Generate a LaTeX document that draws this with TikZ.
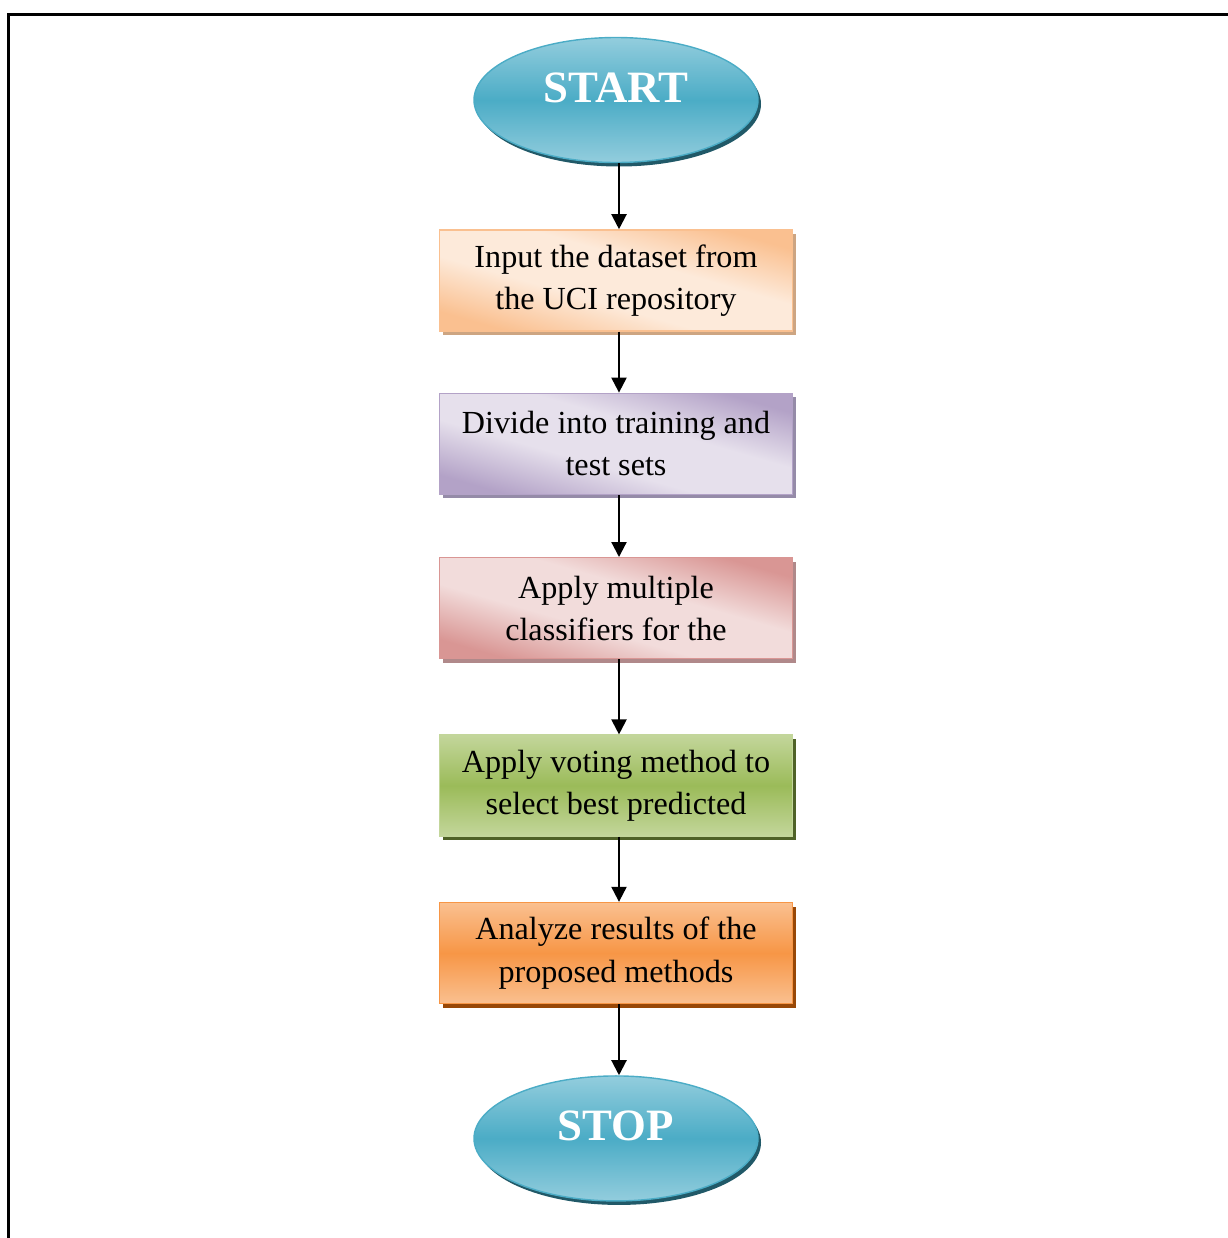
\documentclass[tikz,border=0pt]{standalone}
\usepackage{fontspec}
\setmainfont{Liberation Serif}
\usepackage{tikz}
\usetikzlibrary{
  arrows.meta,
  positioning,
  shapes.geometric,
  shadows
}
\definecolor{termlight}{HTML}{93CDDD}
\definecolor{termmid}{HTML}{4BACC6}
\definecolor{termshadow}{HTML}{215968}
\definecolor{inputdark}{HTML}{FAC090}
\definecolor{inputlight}{HTML}{FDEADA}
\definecolor{inputshadow}{HTML}{CDA582}
\definecolor{splitdark}{HTML}{B3A2C7}
\definecolor{splitlight}{HTML}{E6E0EC}
\definecolor{splitshadow}{HTML}{958BA8}
\definecolor{classdark}{HTML}{D99694}
\definecolor{classlight}{HTML}{F2DCDB}
\definecolor{classshadow}{HTML}{B0898A}
\definecolor{votelight}{HTML}{C3D69B}
\definecolor{votemid}{HTML}{9BBB59}
\definecolor{voteshadow}{HTML}{4F6228}
\definecolor{resultlight}{HTML}{FAC090}
\definecolor{resultmid}{HTML}{F79646}
\definecolor{resultshadow}{HTML}{984807}
% diagonal band shading, colours set per box
\colorlet{diagdark}{inputdark}
\colorlet{diaglight}{inputlight}
\pgfdeclareverticalshading[diagdark,diaglight]{diagband}{100bp}{
  color(0bp)=(diagdark); color(25bp)=(diagdark); color(42bp)=(diaglight);
  color(58bp)=(diaglight); color(75bp)=(diagdark); color(100bp)=(diagdark)}
\tikzset{
  diag colors/.code 2 args={\colorlet{diagdark}{#1}\colorlet{diaglight}{#2}},
  termbox/.style={ellipse, draw=termmid, line width=0.8pt,
    top color=termlight, bottom color=termlight, middle color=termmid,
    minimum width=5.68cm, minimum height=2.5cm, inner sep=0pt,
    text=white, text depth=0.5cm, font=\fontsize{25.5}{30}\selectfont\bfseries,
    drop shadow={shadow xshift=0.06cm, shadow yshift=-0.08cm, fill=termshadow, opacity=1}},
  inputbox/.style={draw=inputdark, line width=0.8pt,
    diag colors={inputdark}{inputlight}, shade, shading=diagband, shading angle=-16,
    minimum width=7.06cm, minimum height=2.02cm, inner sep=0pt,
    align=center, font=\fontsize{18.3}{24}\selectfont,
    drop shadow={shadow xshift=0.07cm, shadow yshift=-0.08cm, fill=inputshadow, opacity=1}},
  splitbox/.style={draw=splitdark, line width=0.8pt,
    diag colors={splitdark}{splitlight}, shade, shading=diagband, shading angle=-16,
    minimum width=7.06cm, minimum height=2.02cm, inner sep=0pt,
    align=center, font=\fontsize{18.3}{24}\selectfont,
    drop shadow={shadow xshift=0.07cm, shadow yshift=-0.08cm, fill=splitshadow, opacity=1}},
  classbox/.style={draw=classdark, line width=0.8pt,
    diag colors={classdark}{classlight}, shade, shading=diagband, shading angle=-16,
    minimum width=7.06cm, minimum height=2.02cm, inner sep=0pt,
    align=center, font=\fontsize{18.3}{24}\selectfont,
    drop shadow={shadow xshift=0.07cm, shadow yshift=-0.08cm, fill=classshadow, opacity=1}},
  votebox/.style={draw=votelight, line width=0.8pt,
    top color=votelight, bottom color=votelight, middle color=votemid,
    minimum width=7.06cm, minimum height=2.02cm, inner sep=0pt,
    align=center, font=\fontsize{18.3}{24}\selectfont,
    drop shadow={shadow xshift=0.07cm, shadow yshift=-0.08cm, fill=voteshadow, opacity=1}},
  resultbox/.style={draw=resultmid, line width=0.8pt,
    top color=resultlight, bottom color=resultlight, middle color=resultmid,
    minimum width=7.06cm, minimum height=2.02cm, inner sep=0pt,
    align=center, font=\fontsize{18.3}{24}\selectfont,
    drop shadow={shadow xshift=0.07cm, shadow yshift=-0.08cm, fill=resultshadow, opacity=1}},
  arr/.style={-{Triangle[length=0.3cm, width=0.3cm]}, line width=1.2pt},
}

\begin{document}
\begin{tikzpicture}
  \useasboundingbox (0,0) rectangle (24.56,-24.76);

  % frame
  \draw[line width=0.06cm] (0.18,-24.76) -- (0.18,-0.28) -- (24.56,-0.28);

  % start
  \node[termbox] (start) at (12.32,-2.0) {START};

  % steps
  \node[inputbox, below=1.32cm of start] (input) {Input the dataset from\\the UCI repository};
  \node[splitbox, below=1.22cm of input] (split) {Divide into training and\\test sets};
  \node[classbox, below=1.24cm of split] (classify) {Apply multiple\\classifiers for the};
  \node[votebox, below=1.5cm of classify] (vote) {Apply voting method to\\select best predicted};
  \node[resultbox, below=1.3cm of vote] (analyze) {Analyze results of the\\proposed methods};

  % stop
  \node[termbox, below=1.42cm of analyze] (stop) {STOP};

  % arrows
  \draw[arr] ([xshift=0.06cm]start.south) -- ([xshift=0.06cm]input.north);
  \draw[arr] ([xshift=0.06cm]input.south) -- ([xshift=0.06cm]split.north);
  \draw[arr] ([xshift=0.06cm]split.south) -- ([xshift=0.06cm]classify.north);
  \draw[arr] ([xshift=0.06cm]classify.south) -- ([xshift=0.06cm]vote.north);
  \draw[arr] ([xshift=0.06cm]vote.south) -- ([xshift=0.06cm]analyze.north);
  \draw[arr] ([xshift=0.06cm]analyze.south) -- ([xshift=0.06cm]stop.north);
\end{tikzpicture}
\end{document}
